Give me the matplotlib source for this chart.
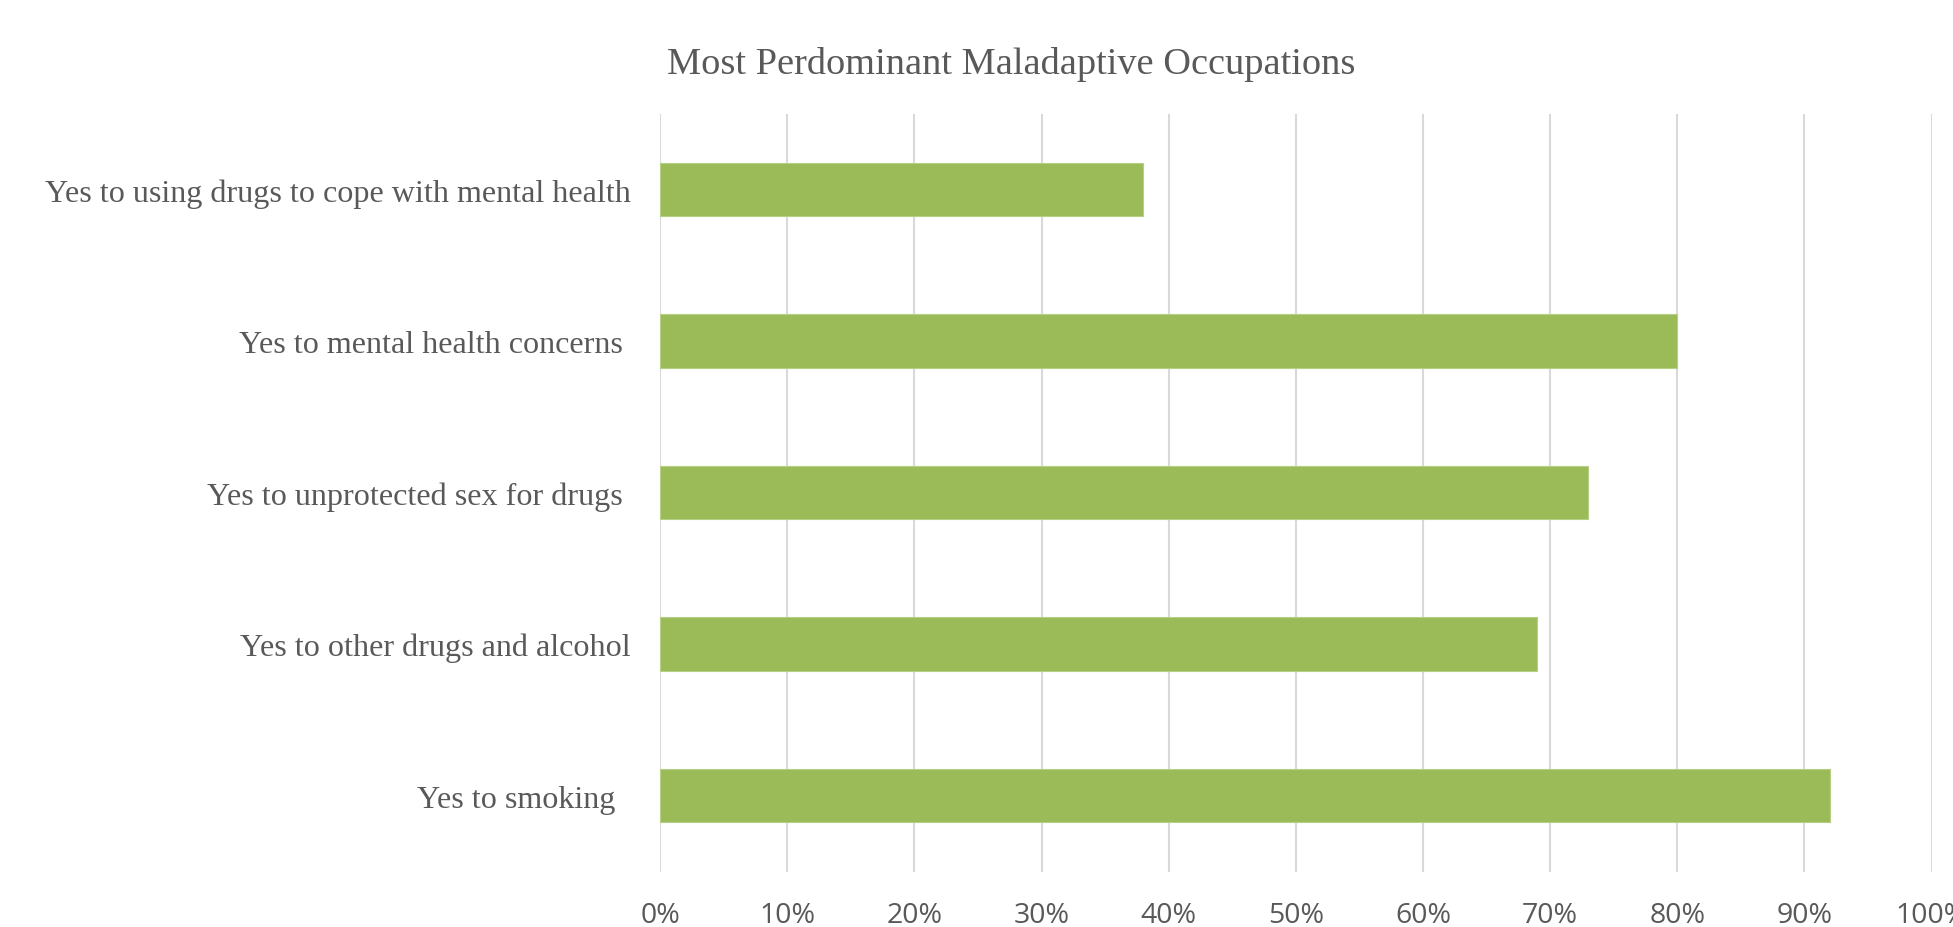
import matplotlib
matplotlib.use("Agg")
import matplotlib.pyplot as plt
from matplotlib.ticker import PercentFormatter

categories = [
    "Yes to smoking  ",
    "Yes to other drugs and alcohol",
    "Yes to unprotected sex for drugs ",
    "Yes to mental health concerns ",
    "Yes to using drugs to cope with mental health",
]
values = [0.92, 0.69, 0.73, 0.80, 0.38]
x_ticks = [i / 10 for i in range(11)]
title = "Most Perdominant Maladaptive Occupations"

TEXT = "#595959"
GRID = "#D9D9D9"
BAR = "#9BBB59"

fig = plt.figure(figsize=(19.53, 9.28), dpi=100)
ax = fig.add_axes([0.338, 0.0598, 0.651, 0.8167])

y = list(range(len(categories)))
ax.barh(y, values, height=0.353, color=BAR, edgecolor="#B5CF85", linewidth=0.8, zorder=3)

ax.set_xlim(0, 1)
ax.set_ylim(-0.5, len(categories) - 0.5)
ax.set_xticks(x_ticks)
ax.xaxis.set_major_formatter(PercentFormatter(1.0, decimals=0))
ax.set_yticks(y)
ax.set_yticklabels(categories, family="Liberation Serif", fontsize=23.1, color=TEXT)
for lbl in ax.get_xticklabels():
    lbl.set_family("Open Sans")
    lbl.set_fontsize(20.5)
    lbl.set_color(TEXT)

ax.tick_params(axis="x", length=0, pad=21)
ax.tick_params(axis="y", length=0, pad=21)
ax.grid(axis="x", color=GRID, linewidth=1.5, zorder=0)
for s in ax.spines.values():
    s.set_visible(False)

fig.text(0.518, 0.930, title, family="Liberation Serif", fontsize=27.6, color=TEXT,
         ha="center", va="center")

fig.savefig("out.png", dpi=100, facecolor="white")
